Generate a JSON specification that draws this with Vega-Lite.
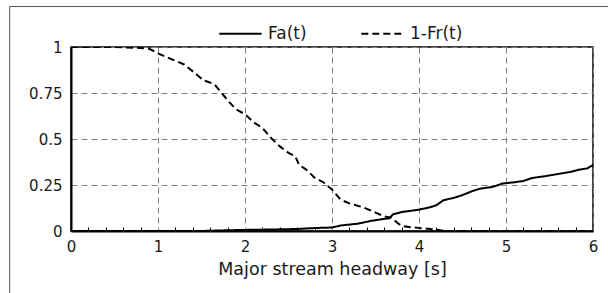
{
  "$schema": "https://vega.github.io/schema/vega-lite/v6.json",
  "width": 522,
  "height": 184,
  "autosize": {"type": "none"},
  "padding": {"left": 71, "top": 47, "right": 15, "bottom": 62},
  "background": "white",
  "config": {
    "font": "DejaVu Sans",
    "view": {"stroke": "#000000", "strokeWidth": 1.5}
  },
  "datasets": {
    "curves": [
      {"t": 0, "v": 0, "series": "Fa(t)"},
      {"t": 1.5, "v": 0, "series": "Fa(t)"},
      {"t": 1.8, "v": 0.004, "series": "Fa(t)"},
      {"t": 2.0, "v": 0.006, "series": "Fa(t)"},
      {"t": 2.3, "v": 0.008, "series": "Fa(t)"},
      {"t": 2.6, "v": 0.011, "series": "Fa(t)"},
      {"t": 2.8, "v": 0.016, "series": "Fa(t)"},
      {"t": 3.0, "v": 0.019, "series": "Fa(t)"},
      {"t": 3.1, "v": 0.03, "series": "Fa(t)"},
      {"t": 3.3, "v": 0.04, "series": "Fa(t)"},
      {"t": 3.45, "v": 0.055, "series": "Fa(t)"},
      {"t": 3.6, "v": 0.066, "series": "Fa(t)"},
      {"t": 3.66, "v": 0.069, "series": "Fa(t)"},
      {"t": 3.7, "v": 0.09, "series": "Fa(t)"},
      {"t": 3.8, "v": 0.103, "series": "Fa(t)"},
      {"t": 4.0, "v": 0.116, "series": "Fa(t)"},
      {"t": 4.12, "v": 0.128, "series": "Fa(t)"},
      {"t": 4.2, "v": 0.14, "series": "Fa(t)"},
      {"t": 4.28, "v": 0.167, "series": "Fa(t)"},
      {"t": 4.4, "v": 0.18, "series": "Fa(t)"},
      {"t": 4.5, "v": 0.195, "series": "Fa(t)"},
      {"t": 4.62, "v": 0.218, "series": "Fa(t)"},
      {"t": 4.7, "v": 0.23, "series": "Fa(t)"},
      {"t": 4.85, "v": 0.24, "series": "Fa(t)"},
      {"t": 4.96, "v": 0.258, "series": "Fa(t)"},
      {"t": 5.1, "v": 0.265, "series": "Fa(t)"},
      {"t": 5.2, "v": 0.272, "series": "Fa(t)"},
      {"t": 5.3, "v": 0.288, "series": "Fa(t)"},
      {"t": 5.45, "v": 0.298, "series": "Fa(t)"},
      {"t": 5.6, "v": 0.31, "series": "Fa(t)"},
      {"t": 5.75, "v": 0.322, "series": "Fa(t)"},
      {"t": 5.85, "v": 0.334, "series": "Fa(t)"},
      {"t": 5.93, "v": 0.34, "series": "Fa(t)"},
      {"t": 6.0, "v": 0.358, "series": "Fa(t)"},
      {"t": 0, "v": 1, "series": "1-Fr(t)"},
      {"t": 0.5, "v": 1, "series": "1-Fr(t)"},
      {"t": 0.8, "v": 0.995, "series": "1-Fr(t)"},
      {"t": 0.9, "v": 0.99, "series": "1-Fr(t)"},
      {"t": 1.0, "v": 0.965, "series": "1-Fr(t)"},
      {"t": 1.15, "v": 0.935, "series": "1-Fr(t)"},
      {"t": 1.3, "v": 0.905, "series": "1-Fr(t)"},
      {"t": 1.42, "v": 0.86, "series": "1-Fr(t)"},
      {"t": 1.52, "v": 0.82, "series": "1-Fr(t)"},
      {"t": 1.65, "v": 0.797, "series": "1-Fr(t)"},
      {"t": 1.74, "v": 0.745, "series": "1-Fr(t)"},
      {"t": 1.82, "v": 0.7, "series": "1-Fr(t)"},
      {"t": 1.9, "v": 0.66, "series": "1-Fr(t)"},
      {"t": 2.0, "v": 0.635, "series": "1-Fr(t)"},
      {"t": 2.1, "v": 0.59, "series": "1-Fr(t)"},
      {"t": 2.2, "v": 0.56, "series": "1-Fr(t)"},
      {"t": 2.3, "v": 0.505, "series": "1-Fr(t)"},
      {"t": 2.4, "v": 0.46, "series": "1-Fr(t)"},
      {"t": 2.5, "v": 0.425, "series": "1-Fr(t)"},
      {"t": 2.58, "v": 0.405, "series": "1-Fr(t)"},
      {"t": 2.62, "v": 0.36, "series": "1-Fr(t)"},
      {"t": 2.7, "v": 0.335, "series": "1-Fr(t)"},
      {"t": 2.8, "v": 0.29, "series": "1-Fr(t)"},
      {"t": 2.9, "v": 0.265, "series": "1-Fr(t)"},
      {"t": 3.0, "v": 0.225, "series": "1-Fr(t)"},
      {"t": 3.1, "v": 0.17, "series": "1-Fr(t)"},
      {"t": 3.2, "v": 0.15, "series": "1-Fr(t)"},
      {"t": 3.35, "v": 0.13, "series": "1-Fr(t)"},
      {"t": 3.5, "v": 0.1, "series": "1-Fr(t)"},
      {"t": 3.6, "v": 0.08, "series": "1-Fr(t)"},
      {"t": 3.68, "v": 0.072, "series": "1-Fr(t)"},
      {"t": 3.75, "v": 0.045, "series": "1-Fr(t)"},
      {"t": 3.8, "v": 0.028, "series": "1-Fr(t)"},
      {"t": 3.9, "v": 0.02, "series": "1-Fr(t)"},
      {"t": 4.0, "v": 0.017, "series": "1-Fr(t)"},
      {"t": 4.15, "v": 0.01, "series": "1-Fr(t)"},
      {"t": 4.3, "v": 0, "series": "1-Fr(t)"},
      {"t": 6.0, "v": 0, "series": "1-Fr(t)"}
    ]
  },
  "resolve": {"axis": {"x": "independent"}},
  "layer": [
    {
      "data": {"name": "curves"},
      "mark": {"type": "line", "color": "black", "strokeWidth": 2, "clip": true},
      "encoding": {
        "x": {
          "field": "t",
          "type": "quantitative",
          "scale": {"domain": [0, 6], "nice": false, "zero": false},
          "axis": {
            "orient": "bottom",
            "title": "Major stream headway [s]",
            "titleFont": "DejaVu Sans",
            "titleFontSize": 17.5,
            "titleFontWeight": "normal",
            "titleColor": "#1a1a1a",
            "titlePadding": 6,
            "values": [0, 1, 2, 3, 4, 5, 6],
            "format": "d",
            "labelFontSize": 15,
            "labelColor": "#1a1a1a",
            "labelPadding": 8,
            "labelFlush": false,
            "labelOverlap": false,
            "domainColor": "black",
            "domainWidth": 2,
            "ticks": false,
            "grid": true,
            "gridColor": "#808080",
            "gridWidth": 1,
            "gridDash": [6, 4]
          }
        },
        "y": {
          "field": "v",
          "type": "quantitative",
          "scale": {"domain": [0, 1], "nice": false, "zero": false},
          "axis": {
            "title": null,
            "values": [0, 0.25, 0.5, 0.75, 1],
            "labelExpr": "datum.value == 0 ? '0' : datum.value == 1 ? '1' : format(datum.value, '.2~f')",
            "labelFontSize": 15,
            "labelColor": "#1a1a1a",
            "labelPadding": 9,
            "ticks": false,
            "domainColor": "black",
            "domainWidth": 2,
            "grid": true,
            "gridColor": "#808080",
            "gridWidth": 1,
            "gridDash": [6, 4]
          }
        },
        "strokeDash": {
          "field": "series",
          "type": "nominal",
          "scale": {"domain": ["Fa(t)", "1-Fr(t)"], "range": [[1, 0], [7, 4]]},
          "legend": {
            "title": null,
            "orient": "none",
            "direction": "horizontal",
            "legendX": 147,
            "legendY": -36,
            "symbolType": "stroke",
            "symbolSize": 1800,
            "symbolStrokeWidth": 2,
            "symbolStrokeColor": "black",
            "labelFontSize": 17,
            "labelColor": "#1a1a1a",
            "labelOffset": 5,
            "columnPadding": 50
          }
        }
      }
    },
    {
      "data": {"values": [{"frame": "outer"}]},
      "mark": {"type": "rect", "fill": null, "stroke": "#595959", "strokeWidth": 1, "clip": false},
      "encoding": {
        "x": {
          "datum": -0.705,
          "type": "quantitative",
          "scale": {"domain": [0, 6], "nice": false, "zero": false},
          "axis": {
            "orient": "bottom",
            "title": null,
            "values": [0.2, 0.4, 0.6, 0.8, 1.2, 1.4, 1.6, 1.8, 2.2, 2.4, 2.6, 2.8, 3.2, 3.4, 3.6, 3.8, 4.2, 4.4, 4.6, 4.8, 5.2, 5.4, 5.6, 5.8],
            "labels": false,
            "domain": false,
            "grid": false,
            "ticks": true,
            "tickColor": "black",
            "tickWidth": 1,
            "tickSize": -4
          }
        },
        "x2": {"datum": 6.8},
        "y": {"datum": 1.22, "type": "quantitative", "scale": {"domain": [0, 1], "nice": false, "zero": false}},
        "y2": {"datum": -0.6}
      }
    }
  ]
}
